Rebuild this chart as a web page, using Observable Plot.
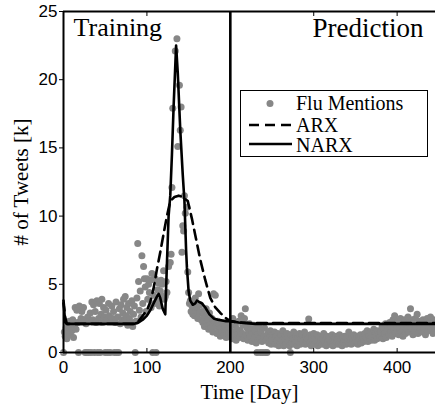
<!DOCTYPE html>
<html><head><meta charset="utf-8">
<script src="https://cdn.jsdelivr.net/npm/d3@7"></script>
<script src="https://cdn.jsdelivr.net/npm/@observablehq/plot@0.6"></script>
<style>
body{margin:0;background:#fff;color:#000;}
#wrap{position:relative;width:435px;height:404px;overflow:hidden;}
#wrap svg.plot{position:absolute;left:0;top:0;}
#legend{position:absolute;left:240px;top:90px;}
g[aria-label="x-axis label"] text, g[aria-label="y-axis label"] text{font-family:"Liberation Serif",serif;font-size:21px;fill:#000;}
</style></head><body><div id="wrap"></div>
<script>
// Daily flu-mention tweet counts [k]; index = day, null = no sample
const fluMentions = [
 0,1.5,1.2,1.8,1.0,2.0,1.4,2.3,1.3,1.9,        // 0
 1.6,2.4,1.1,2.0,3.3,1.7,3.1,2.2,0,3.4,        // 10
 3.2,2.5,3.0,2.3,3.3,2.4,0,2.1,0,2.6,          // 20
 0,2.3,2.9,0,3.7,2.4,3.5,0,3.0,2.2,            // 30
 3.8,0,2.5,3.6,0,2.8,3.9,2.2,3.3,2.6,          // 40
 0,3.1,2.4,0,3.6,2.7,0,2.3,3.4,2.5,            // 50
 3.0,0,2.2,3.7,0,2.6,0,3.2,2.1,3.5,            // 60
 2.4,2.9,3.9,2.3,4.1,2.7,3.3,2.0,3.6,2.5,      // 70
 3.0,2.2,3.8,1.9,2.8,3.4,0,2.3,4.0,8.0,        // 80
 5.2,3.1,4.5,2.6,7.1,3.6,6.3,5.4,4.8,3.0,      // 90
 5.4,3.9,5.0,4.4,5.3,3.3,5.8,0,4.2,3.6,        // 100
 5.4,0,3.8,4.6,5.1,3.4,4.5,5.3,5.0,4.1,        // 110
 6.0,3.9,4.1,5.2,4.4,null,6.3,null,6.6,7.2,    // 120
 12.1,17.9,null,null,22.1,null,23.0,15.1,null,19.6, // 130
 16.3,18.0,7.35,9.3,8.9,11.5,10.2,null,10.65,5.9,   // 140
 4.4,3.6,3.8,3.0,3.4,2.8,3.7,2.7,4.0,3.1,      // 150
 3.3,2.5,4.3,2.9,3.5,2.4,3.0,2.2,2.8,1.9,      // 160
 2.6,3.2,2.0,2.4,1.7,2.9,2.1,1.8,2.5,1.5,      // 170
 4.3,2.2,4.2,1.9,1.4,2.3,1.6,2.0,1.2,1.8,      // 180
 1.5,2.1,1.3,1.7,1.9,1.1,1.6,2.2,1.4,1.2,      // 190
 1.8,2.2,1.0,2.5,1.5,1.2,2.0,0.9,1.7,1.3,      // 200
 2.3,1.1,1.6,2.7,1.4,2.0,1.0,2.5,3.2,1.3,      // 210
 1.8,0.9,1.5,2.1,1.2,1.7,0.8,1.4,2.0,1.1,      // 220
 1.6,0.7,0,1.3,1.9,1.0,0,1.5,0.8,0,            // 230
 1.2,1.8,0,0.9,0,1.4,0.7,1.1,1.6,0.6,          // 240
 1.0,1.3,0.8,1.5,0.6,1.2,0.9,1.4,0.5,1.1,      // 250
 0.7,1.3,0.9,1.6,0.5,1.0,1.2,0.6,1.4,0.8,      // 260
 1.1,0.5,0,1.3,0.7,1.0,1.5,0.6,0.9,1.2,        // 270
 0.5,1.1,0.8,1.4,0.6,1.0,1.3,0.7,0.9,1.5,      // 280
 0.6,1.2,0.8,1.0,2.45,0.7,1.3,0.5,1.1,0.9,     // 290
 1.4,0.6,1.0,0.8,1.3,0.5,1.1,0.7,1.2,0.9,      // 300
 0.6,1.0,1.4,0.7,0.9,0.5,1.2,0.8,1.1,0.6,      // 310
 1.0,0.7,1.3,0.5,0.9,1.1,0.6,1.2,0.8,1.0,      // 320
 0.6,1.3,0.8,1.0,0.5,1.1,0.7,1.2,0.9,0.6,      // 330
 1.1,0.8,1.5,0.7,1.0,0.6,1.2,0.9,1.3,0.7,      // 340
 1.0,0.8,1.2,0.6,1.1,0.9,1.3,0.7,1.0,1.2,      // 350
 0.8,1.4,0.9,1.1,1.6,0.8,1.2,1.0,1.5,0.9,      // 360
 1.3,1.1,1.7,0.9,1.4,1.2,1.0,1.6,1.3,1.1,      // 370
 1.5,1.2,1.9,1.0,1.7,1.4,2.1,1.1,1.6,1.8,      // 380
 1.3,2.2,1.5,1.9,1.2,2.4,1.7,2.7,1.4,2.0,      // 390
 1.6,2.3,1.3,1.8,2.5,1.5,2.1,1.2,1.9,2.4,      // 400
 1.4,2.0,1.7,2.6,1.5,2.2,3.2,1.8,2.4,1.3,      // 410
 2.0,1.6,2.5,1.9,2.8,1.4,2.1,2.3,1.7,2.0,      // 420
 1.5,2.4,1.8,2.2,1.3,2.0,2.5,1.6,1.9,2.3,      // 430
 2.6,1.7,2.1,1.4,2.4,1.8                       // 440
];

// NARX model output (knots)
const narxDays   = [0,1,2,4,85,90,95,100,104,108,112,114,116,119,122,124,126,128,130,132,135,137,140,143,145,147,148,150,152,155,158,160,163,166,170,175,180,185,195,200,210,230,446];
const narxValues = [3.6,3.0,2.2,2.1,2.1,2.2,2.4,2.7,3.1,3.6,4.1,4.3,4.0,3.2,2.8,6.5,10.0,11.5,14.5,18.0,22.5,20.5,16.3,13.0,11.1,7.5,6.2,4.5,3.8,3.5,3.6,3.8,3.7,3.6,3.3,2.8,2.5,2.4,2.3,2.3,2.2,2.1,2.1];

// ARX model output
const arxDays   = [0,2,4,85,90,95,100,104,108,112,116,120,124,128,133,138,143,149,154,158,164,170,176,182,188,195,200,210,230,446];
const arxValues = [3.8,2.6,2.1,2.1,2.3,2.7,3.1,3.7,4.7,6.1,7.35,8.7,10.0,11.1,11.4,11.5,11.4,11.1,9.8,8.6,6.8,5.3,4.0,3.3,2.9,2.5,2.3,2.2,2.15,2.15];

const splitDay = 200;
const xDomain = [0, 446];
const yDomain = [0, 25];
const xTicks = [0, 100, 200, 300, 400];
const yTicks = [0, 5, 10, 15, 20, 25];
const phaseLabels = ["Training", "Prediction"];
const legendLabels = ["Flu Mentions", "ARX", "NARX"];
const xLabel = "Time [Day]";
const yLabel = "# of Tweets [k]";

const points = fluMentions.map((v, i) => ({day: i, value: v})).filter(d => d.value != null);
const narx = narxDays.map((d, i) => ({day: d, value: narxValues[i]}));
const arx = arxDays.map((d, i) => ({day: d, value: arxValues[i]}));

const serif = "Liberation Serif, serif";
const sans = "Liberation Sans, Arial, sans-serif";
const gray = "#878787";

const chart = Plot.plot({
  width: 435, height: 404,
  marginLeft: 63, marginRight: 0, marginTop: 11, marginBottom: 52,
  x: {domain: xDomain},
  y: {domain: yDomain},
  style: {background: "transparent", overflow: "visible", color: "#000"},
  marks: [
    Plot.dot(points, {x: "day", y: "value", r: 3.5, fill: gray}),
    Plot.line(arx, {x: "day", y: "value", stroke: "#000", strokeWidth: 2.6, strokeDasharray: "10,6"}),
    Plot.line(narx, {x: "day", y: "value", stroke: "#000", strokeWidth: 2.6}),
    Plot.ruleX([splitDay], {stroke: "#000", strokeWidth: 2.6}),
    Plot.ruleX([xDomain[0]], {stroke: "#000", strokeWidth: 2}),
    Plot.ruleY([yDomain[0]], {stroke: "#000", strokeWidth: 2}),
    Plot.ruleY([yDomain[1]], {stroke: "#000", strokeWidth: 2}),
    Plot.axisX(xTicks, {anchor: "bottom", tickSize: 0, tickPadding: 8, fontSize: 17, fontFamily: sans, label: xLabel, labelArrow: "none", labelAnchor: "center", labelOffset: 46}),
    Plot.axisX(xTicks, {anchor: "bottom", tickSize: 4, dy: -4, text: null, label: null, strokeWidth: 1}),
    Plot.axisX(xTicks, {anchor: "top", tickSize: 4, dy: 4, text: null, label: null, strokeWidth: 1}),
    Plot.axisY(yTicks, {anchor: "left", tickSize: 4, tickPadding: 2, fontSize: 17, fontFamily: sans, label: yLabel, labelArrow: "none", labelAnchor: "center", labelOffset: 50, strokeWidth: 1}),
    Plot.text([phaseLabels[0]], {text: d => d, frameAnchor: "top-left", textAnchor: "start", lineAnchor: "top", dx: 10, dy: 6, fontSize: 26, fontFamily: serif, fill: "#000"}),
    Plot.text([phaseLabels[1]], {text: d => d, frameAnchor: "top-right", textAnchor: "end", lineAnchor: "top", dx: -12, dy: 6, fontSize: 27, fontFamily: serif, fill: "#000"})
  ]
});
chart.classList.add("plot");
// strip any label arrows (older Plot 0.6 builds ignore labelArrow)
d3.select(chart).selectAll('g[aria-label="x-axis label"] text, g[aria-label="y-axis label"] text')
  .each(function () {
    const s = d3.select(this);
    s.text(s.text().replace(/[\u2190-\u2193]/g, "").trim());
  });
const wrap = document.getElementById("wrap");
wrap.appendChild(chart);

// Legend (inside the axes, upper right)
const lg = d3.select(wrap).append("svg").attr("id", "legend")
  .attr("width", 189).attr("height", 68);
lg.append("rect").attr("x", 0.5).attr("y", 0.5).attr("width", 187).attr("height", 66)
  .attr("fill", "#fff").attr("stroke", "#000").attr("stroke-width", 1);
lg.append("circle").attr("cx", 30).attr("cy", 13.5).attr("r", 3.5).attr("fill", gray);
lg.append("line").attr("x1", 9).attr("x2", 52).attr("y1", 35).attr("y2", 35)
  .attr("stroke", "#000").attr("stroke-width", 2.6).attr("stroke-dasharray", "10,6");
lg.append("line").attr("x1", 9).attr("x2", 52).attr("y1", 54).attr("y2", 54)
  .attr("stroke", "#000").attr("stroke-width", 2.6);
const baselines = [20, 41.5, 61.5];
legendLabels.forEach((t, i) => {
  lg.append("text").attr("x", 56).attr("y", baselines[i])
    .attr("font-family", serif).attr("font-size", 20).text(t);
});
</script>
</body></html>
